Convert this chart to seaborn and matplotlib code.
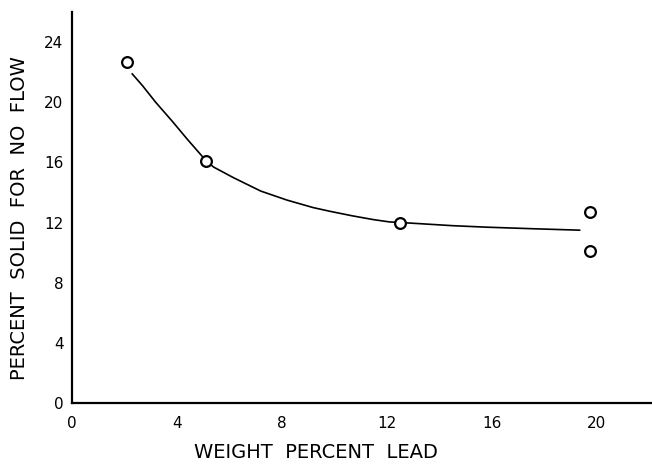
import numpy as np
import pandas as pd
import matplotlib
matplotlib.use("Agg")
import matplotlib.pyplot as plt
import seaborn as sns

# measured points (weight % lead vs % solid for no flow)
lead_pct = [2.1, 5.1, 12.5, 19.75, 19.75]
solid_pct = [22.7, 16.1, 12.0, 12.7, 10.1]

# hand-drawn curve
curve_x = [2.3, 2.7, 3.2, 3.85, 4.4, 4.9, 5.1, 5.4, 6.15, 7.2, 8.2, 9.2, 9.85,
           10.7, 11.5, 12.1, 13.1, 14.5, 15.8, 17.5, 19.35]
curve_y = [21.9, 21.1, 20.0, 18.7, 17.55, 16.55, 16.15, 15.7, 15.0, 14.1, 13.5, 13.0, 12.75,
           12.45, 12.2, 12.05, 11.95, 11.8, 11.7, 11.6, 11.5]

x_ticks = [0, 4, 8, 12, 16, 20]
y_ticks = [0, 4, 8, 12, 16, 20, 24]

sns.set_style("white")
plt.rcParams["font.family"] = ["DejaVu Sans"]

fig = plt.figure(figsize=(6.52, 4.65), dpi=100)
ax = fig.add_axes([0.110, 0.133, 0.89, 0.841])

df_curve = pd.DataFrame({"x": curve_x, "y": curve_y})
sns.lineplot(data=df_curve, x="x", y="y", color="black", linewidth=1.2,
             sort=False, estimator=None, ax=ax)

df_pts = pd.DataFrame({"x": lead_pct, "y": solid_pct})
sns.scatterplot(data=df_pts, x="x", y="y", s=60, facecolor="white",
                edgecolor="black", linewidth=1.6, zorder=5, ax=ax)

ax.set_xlim(0, 22.1)
ax.set_ylim(0, 26)
ax.set_xticks(x_ticks)
ax.set_yticks(y_ticks)
ax.tick_params(direction="in", length=6, width=1.3, labelsize=11, colors="black")
ax.tick_params(axis="x", pad=9)
ax.tick_params(axis="y", pad=6)

for s in ["top", "right"]:
    ax.spines[s].set_visible(False)
for s in ["left", "bottom"]:
    ax.spines[s].set_linewidth(1.6)
    ax.spines[s].set_color("black")

ax.set_xlabel("WEIGHT  PERCENT  LEAD", fontsize=14, color="black")
ax.set_ylabel("PERCENT  SOLID  FOR  NO  FLOW", fontsize=14, color="black")
ax.xaxis.set_label_coords(0.42, -0.102)
ax.yaxis.set_label_coords(-0.074, 0.473)

fig.savefig("out.png", dpi=100)
